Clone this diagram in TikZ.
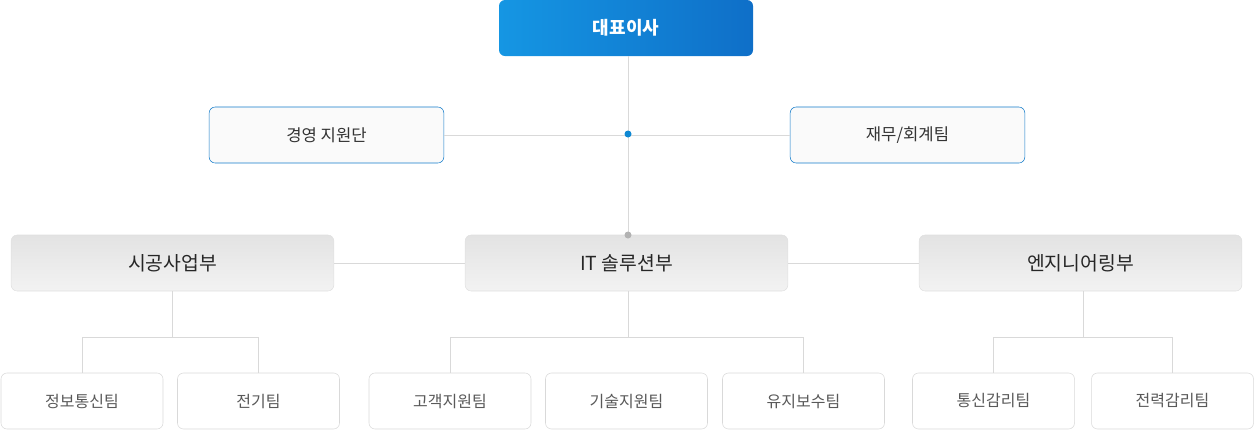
\documentclass[tikz,border=0pt]{standalone}
\usepackage{fontspec}
\setmainfont{Noto Sans CJK KR}
\definecolor{bA}{HTML}{1596E3}
\definecolor{bB}{HTML}{0F6FC8}
\begin{document}
\begin{tikzpicture}[x=0.75pt,y=-0.75pt,
 ln/.style={draw=black!15,line width=0.75pt},
 top/.style={rounded corners=4.5pt,draw=none,left color=bA,right color=bB,minimum height=42pt,minimum width=190.5pt,text=white,font=\bfseries\fontsize{13.5}{15}\selectfont},
 sec/.style={rounded corners=4.5pt,draw=cyan!60!blue,fill=black!2,minimum height=42pt,minimum width=176pt,text=black!80,font=\fontsize{12.5}{14}\selectfont},
 dept/.style={rounded corners=4.5pt,draw=black!12,top color=black!11,bottom color=black!5,minimum height=42pt,minimum width=242pt,text=black!85,font=\fontsize{14.5}{16}\selectfont},
 team/.style={rounded corners=4.5pt,draw=black!15,fill=white,minimum height=42pt,minimum width=121.5pt,text=black!65,font=\fontsize{12}{14}\selectfont}]
\useasboundingbox (0,0) rectangle (1255,430);
\node[top] (ceo) at (626,28) {대표이사};
\node[sec] (mg) at (326.5,135) {경영 지원단};
\node[sec] (fi) at (907.5,135) {재무/회계팀};
\node[dept] (d1) at (172.5,263) {시공사업부};
\node[dept] (d2) at (626.5,263) {IT 솔루션부};
\node[dept] (d3) at (1080.5,263) {엔지니어링부};
\coordinate (hub) at (628,134);
\coordinate (gd) at (628,235);
\draw[ln] (mg.east) -- (fi.west);
\draw[ln] (ceo.south -| hub) -- (gd);
\draw[ln] (d1.east) -- (d2.west);
\draw[ln] (d2.east) -- (d3.west);
\fill[cyan!70!blue] (hub) circle (3.5);
\fill[black!30] (gd) circle (3.5);
\node[team] (t1) at (82,401) {정보통신팀};
\node[team] (t2) at (258.5,401) {전기팀};
\node[team] (t3) at (450,401) {고객지원팀};
\node[team] (t4) at (626.5,401) {기술지원팀};
\node[team] (t5) at (803.5,401) {유지보수팀};
\node[team] (t6) at (993.5,401) {통신감리팀};
\node[team] (t7) at (1172.5,401) {전력감리팀};
\coordinate (b1) at (172,337);
\coordinate (b2) at (628,337);
\coordinate (b3) at (1083,337);
\draw[ln] (d1.south -| b1) -- (b1);
\draw[ln] (d2.south -| b2) -- (b2);
\draw[ln] (d3.south -| b3) -- (b3);
\draw[ln] (t1.north) -- (t1.north |- b1) -- (t2.north |- b1) -- (t2.north);
\draw[ln] (t3.north) -- (t3.north |- b2) -- (t5.north |- b2) -- (t5.north);
\draw[ln] (t6.north) -- (t6.north |- b3) -- (t7.north |- b3) -- (t7.north);
\end{tikzpicture}
\end{document}
